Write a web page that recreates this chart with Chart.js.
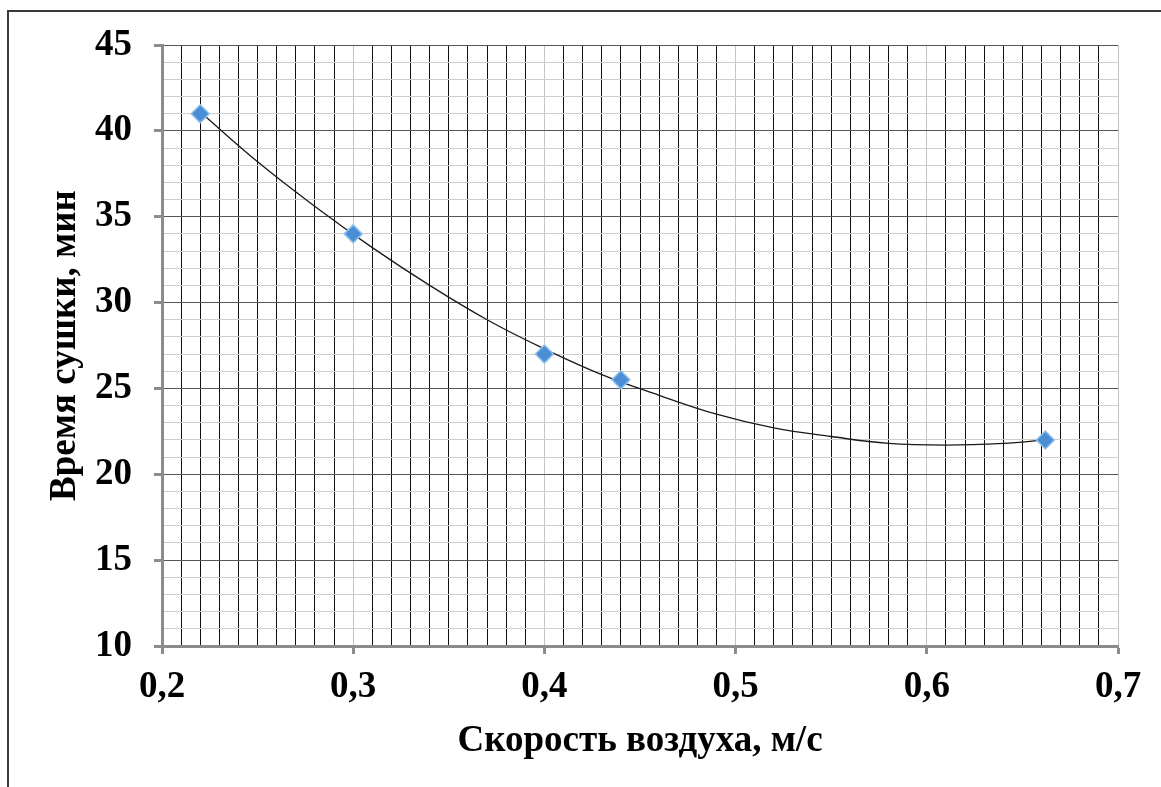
<!DOCTYPE html>
<html>
<head>
<meta charset="utf-8">
<script src="https://cdn.jsdelivr.net/npm/chart.js@4"></script>
<style>
  html, body { margin: 0; padding: 0; background: #fff; }
  #wrap { width: 1161px; height: 787px; }
</style>
</head>
<body>
<div id="wrap"><canvas id="c"></canvas></div>
<script>
// measured points
const speed = [0.22, 0.30, 0.40, 0.44, 0.662];
const dryTime = [41, 34, 27, 25.5, 22];

// trend curve
const trendX = [0.22, 0.25, 0.28, 0.31, 0.34, 0.37, 0.40, 0.43, 0.46, 0.49, 0.52, 0.55, 0.58, 0.61, 0.64, 0.662];
const trendY = [41.1, 38.2, 35.6, 33.2, 31.0, 29.0, 27.3, 25.8, 24.6, 23.5, 22.7, 22.2, 21.8, 21.7, 21.8, 22.0];

const xTicks = ['0,2', '0,3', '0,4', '0,5', '0,6', '0,7'];
const yTicks = ['10', '15', '20', '25', '30', '35', '40', '45'];

const serif = 'Liberation Serif, Times New Roman, serif';
const isMajorX = v => Math.abs(v * 10 - Math.round(v * 10)) < 1e-6;
const isMajorY = v => Math.abs(v / 5 - Math.round(v / 5)) < 1e-6;

// outer frame (top + left edge only)
const frame = {
  id: 'frame',
  beforeDraw(chart) {
    const ctx = chart.ctx;
    ctx.save();
    ctx.fillStyle = '#fff';
    ctx.fillRect(0, 0, chart.width, chart.height);
    ctx.strokeStyle = '#3a3a3a';
    ctx.lineWidth = 2;
    ctx.beginPath();
    ctx.moveTo(8, chart.height);
    ctx.lineTo(8, 11);
    ctx.lineTo(chart.width, 11);
    ctx.stroke();
    ctx.restore();
  }
};

new Chart(document.getElementById('c'), {
  type: 'scatter',
  data: {
    datasets: [
      {
        data: speed.map((x, i) => ({ x: x, y: dryTime[i] })),
        pointStyle: 'rectRot',
        pointRadius: 9,
        pointHoverRadius: 9,
        backgroundColor: '#4a8fd6',
        borderColor: '#8fc0ec',
        borderWidth: 1.5,
        order: 0
      },
      {
        data: trendX.map((x, i) => ({ x: x, y: trendY[i] })),
        showLine: true,
        pointRadius: 0,
        borderColor: '#1a1a1a',
        borderWidth: 1.3,
        tension: 0.4,
        order: 1
      }
    ]
  },
  options: {
    responsive: true,
    maintainAspectRatio: false,
    animation: false,
    layout: { padding: { top: 45, right: 43, left: 0, bottom: 0 } },
    plugins: { legend: { display: false }, tooltip: { enabled: false } },
    scales: {
      x: {
        type: 'linear',
        min: 0.2,
        max: 0.7,
        afterFit(s) { s.height = 787 - 646; },
        ticks: {
          stepSize: 0.01,
          autoSkip: false,
          maxRotation: 0,
          padding: 11,
          color: '#000',
          font: { family: serif, size: 37, weight: 'bold' },
          callback(v) {
            if (!isMajorX(v)) return '';
            return xTicks[Math.round(v * 10) - 2];
          }
        },
        grid: {
          color: c => isMajorX(c.tick.value) ? '#c4c4c4' : '#111',
          lineWidth: 1,
          tickLength: 8,
          tickColor: c => isMajorX(c.tick.value) ? '#8c8c8c' : 'rgba(0,0,0,0)',
          tickWidth: 3
        },
        border: { color: '#8c8c8c', width: 3 },
        title: {
          display: true,
          text: 'Скорость воздуха, м/с',
          color: '#000',
          font: { family: serif, size: 37, weight: 'bold' },
          padding: { top: 0, bottom: 23 }
        }
      },
      y: {
        min: 10,
        max: 45,
        afterFit(s) { s.width = 162; },
        ticks: {
          stepSize: 1,
          autoSkip: false,
          padding: 22,
          color: '#000',
          font: { family: serif, size: 37, weight: 'bold' },
          callback(v) {
            if (!isMajorY(v)) return '';
            return yTicks[Math.round(v / 5) - 2];
          }
        },
        grid: {
          color: c => isMajorY(c.tick.value) ? '#555' : '#cfcfcf',
          lineWidth: 1,
          tickLength: 8,
          tickColor: c => isMajorY(c.tick.value) ? '#8c8c8c' : 'rgba(0,0,0,0)',
          tickWidth: 3
        },
        border: { color: '#8c8c8c', width: 3 },
        title: {
          display: true,
          text: 'Время сушки, мин',
          color: '#000',
          font: { family: serif, size: 37, weight: 'bold' },
          padding: { top: 43, bottom: 0 }
        }
      }
    }
  },
  plugins: [frame]
});
</script>
</body>
</html>
